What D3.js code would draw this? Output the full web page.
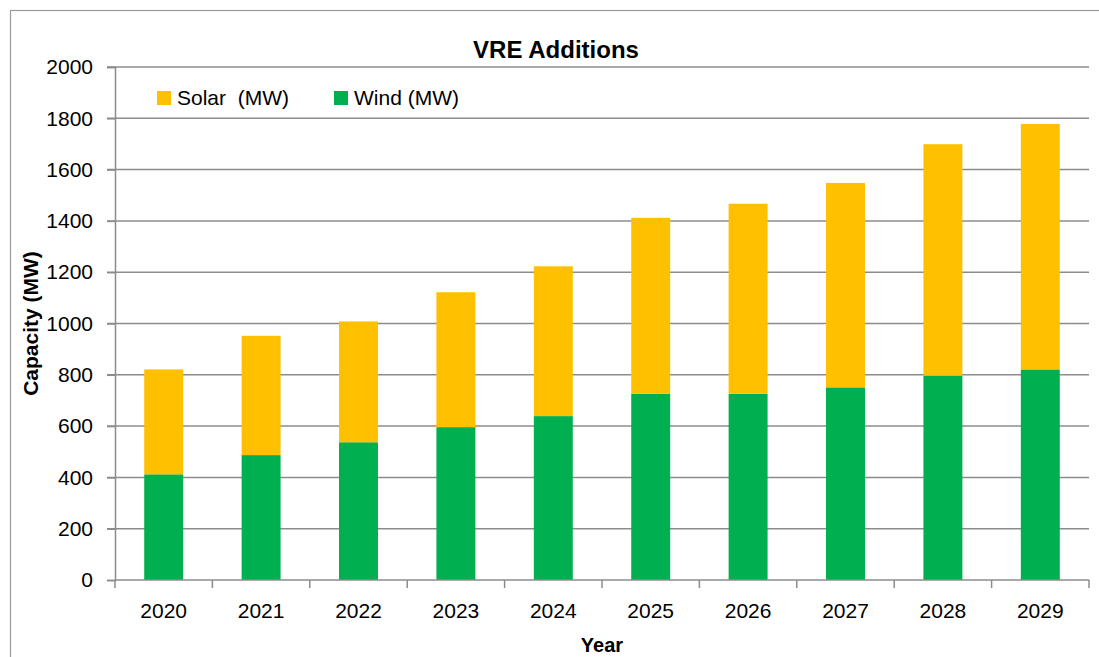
<!DOCTYPE html>
<html>
<head>
<meta charset="utf-8">
<script src="https://cdn.jsdelivr.net/npm/d3@7"></script>
<style>
  body { margin: 0; background: #fff; }
  text { font-family: "Liberation Sans", Arial, sans-serif; fill: #000; }
</style>
</head>
<body>
<div id="chart"></div>
<script>
// data
var years = ["2020", "2021", "2022", "2023", "2024", "2025", "2026", "2027", "2028", "2029"];
var wind = [412, 487, 537, 596, 639, 726, 726, 751, 797, 821];
var solar = [409, 465, 471, 526, 584, 686, 741, 797, 902, 957];
var yTicks = [0, 200, 400, 600, 800, 1000, 1200, 1400, 1600, 1800, 2000];
var seriesNames = ["Wind (MW)", "Solar  (MW)"];
var colors = {"Wind (MW)": "#00B050", "Solar  (MW)": "#FFC000"};

var svg_width = 1099, svg_height = 657;
var left = 115, right = 1089, top_y = 67, bottom = 580;

var svg = d3.select("#chart").append("svg")
    .attr("width", svg_width)
    .attr("height", svg_height);

// outer chart border (cut at right/bottom in the original)
svg.append("rect")
    .attr("x", 10.5).attr("y", 10.5)
    .attr("width", 1100).attr("height", 660)
    .attr("fill", "none").attr("stroke", "#9a9a9a").attr("stroke-width", 1.2);

var x = d3.scaleBand().domain(years).range([left, right])
    .paddingInner(0.6).paddingOuter(0.3);
var y = d3.scaleLinear().domain([0, 2000]).range([bottom, top_y]);

// gridlines
svg.append("g").selectAll("line").data(yTicks.slice(1)).enter().append("line")
    .attr("x1", left - 8).attr("x2", right)
    .attr("y1", function (d) { return y(d); })
    .attr("y2", function (d) { return y(d); })
    .attr("stroke", "#8c8c8c").attr("stroke-width", 1.5);

// y axis
var yAxis = svg.append("g")
    .attr("transform", "translate(" + left + ",0)")
    .call(d3.axisLeft(y).tickValues(yTicks).tickFormat(d3.format("d")).tickSize(8).tickPadding(14));
yAxis.select(".domain").attr("stroke", "#8c8c8c").attr("stroke-width", 1.5);
yAxis.selectAll(".tick line").attr("stroke", "#8c8c8c").attr("stroke-width", 1.5);
yAxis.selectAll(".tick text").style("font-size", "21px")
    .style("font-family", "Liberation Sans, Arial, sans-serif").attr("fill", "#000");

// stacked bars
var table = years.map(function (yr, i) {
    return {year: yr, "Wind (MW)": wind[i], "Solar  (MW)": solar[i]};
});
var stacked = d3.stack().keys(seriesNames)(table);
svg.append("g").selectAll("g").data(stacked).enter().append("g")
    .attr("fill", function (d) { return colors[d.key]; })
    .selectAll("rect").data(function (d) { return d; }).enter().append("rect")
    .attr("x", function (d) { return x(d.data.year); })
    .attr("width", x.bandwidth())
    .attr("y", function (d) { return y(d[1]); })
    .attr("height", function (d) { return y(d[0]) - y(d[1]); });

// x axis with ticks at category boundaries
var xAxis = svg.append("g").attr("transform", "translate(0," + bottom + ")");
xAxis.append("line").attr("x1", left).attr("x2", right)
    .attr("stroke", "#8c8c8c").attr("stroke-width", 1.5);
var step = x.step();
var edges = d3.range(years.length + 1).map(function (i) { return left + i * step; });
xAxis.selectAll("line.tk").data(edges).enter().append("line")
    .attr("class", "tk")
    .attr("x1", function (d) { return d; }).attr("x2", function (d) { return d; })
    .attr("y1", 0).attr("y2", 8)
    .attr("stroke", "#8c8c8c").attr("stroke-width", 1.5);
xAxis.selectAll("text").data(years).enter().append("text")
    .attr("x", function (d) { return x(d) + x.bandwidth() / 2; })
    .attr("y", 38)
    .attr("text-anchor", "middle")
    .style("font-size", "21px")
    .text(function (d) { return d; });

// title
svg.append("text").attr("x", 556).attr("y", 58)
    .attr("text-anchor", "middle")
    .style("font-size", "24px").style("font-weight", "bold")
    .text("VRE Additions");

// axis titles
svg.append("text").attr("x", (left + right) / 2).attr("y", 652)
    .attr("text-anchor", "middle")
    .style("font-size", "20px").style("font-weight", "bold")
    .text("Year");
svg.append("text")
    .attr("transform", "translate(38," + (top_y + bottom) / 2 + ") rotate(-90)")
    .attr("text-anchor", "middle")
    .style("font-size", "21px").style("font-weight", "bold")
    .text("Capacity (MW)");

// legend
var legendItems = [
    {name: "Solar  (MW)", x: 157},
    {name: "Wind (MW)", x: 334}
];
var lg = svg.append("g").selectAll("g").data(legendItems).enter().append("g");
lg.append("rect")
    .attr("x", function (d) { return d.x; }).attr("y", 91)
    .attr("width", 14).attr("height", 14)
    .attr("fill", function (d) { return colors[d.name]; });
lg.append("text")
    .attr("x", function (d) { return d.x + 20; }).attr("y", 105)
    .attr("xml:space", "preserve")
    .style("white-space", "pre")
    .style("font-size", "21px")
    .text(function (d) { return d.name; });
</script>
</body>
</html>
